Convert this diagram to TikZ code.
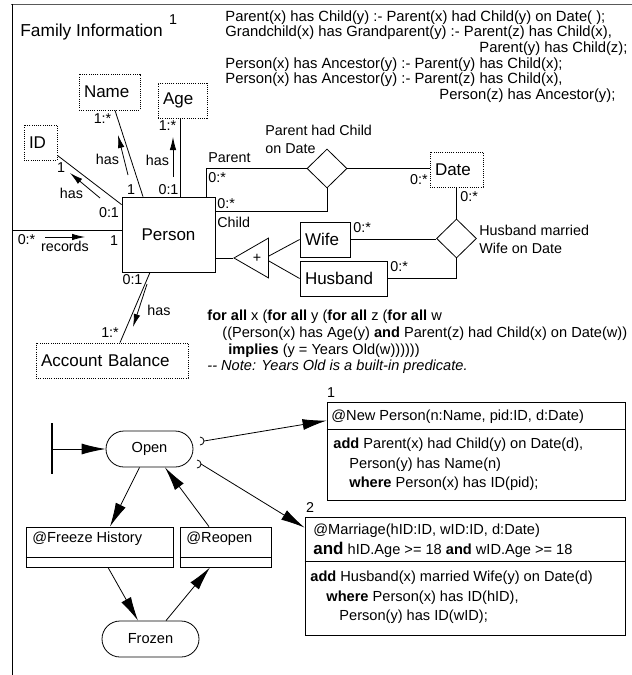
\documentclass[tikz,border=0pt]{standalone}
\usepackage{fontspec}
\setmainfont{Liberation Sans}
\usepackage{tikz}
\usetikzlibrary{arrows.meta,positioning,calc,shapes.geometric,shapes.misc}
\newcommand{\lblsize}{\fontsize{14.3}{18}\selectfont}
\newcommand{\boxsize}{\fontsize{17}{20}\selectfont}
\newcommand{\actsize}{\fontsize{14.6}{19.5}\selectfont}

\begin{document}
\begin{tikzpicture}[x=1pt,y=-1pt,line width=0.8pt,
  attr/.style={draw, dash pattern=on 1pt off 1.2pt, font=\boxsize, inner ysep=0pt, inner xsep=5pt, align=left},
  objbox/.style={draw, font=\boxsize, inner ysep=0pt, inner xsep=5pt, align=left},
  rel/.style={draw, diamond, minimum width=40pt, minimum height=39pt, inner sep=0pt},
  lbl/.style={font=\lblsize, inner sep=0pt},
  hasarrow/.style={-{Latex[length=13pt,width=6.5pt]}},
  flow/.style={-{Latex[length=24pt,width=11pt]}},
  statebox/.style={draw, rounded rectangle, font=\actsize, minimum height=36pt, inner sep=0pt},
  trbox/.style={draw, minimum height=40pt, inner sep=0pt},
  actbox/.style={draw, inner sep=0pt},
  act/.style={font=\actsize, inner sep=0pt, align=left}]
  \useasboundingbox (0,0) rectangle (632,675);
  % frame of the model
  \draw[black!65, line width=1.6pt] (11,4.5) -- (632,4.5);
  \draw (12,4) -- (12,675);
  \node[font=\fontsize{17.3}{20}\selectfont, inner sep=0pt, anchor=west] (ttl) at (20,32) {Family Information};
  \node[lbl] (ttlno) at (173,20) {1};
  \node[font=\fontsize{14.8}{15.6}\selectfont, inner sep=0pt, align=left, anchor=west] (rl) at (225,56.5)
    {Parent(x) has Child(y) :- Parent(x) had Child(y) on Date( );\\
     Grandchild(x) has Grandparent(y) :- Parent(z) has Child(x),\\
     \hspace*{254pt}Parent(y) has Child(z);\\
     Person(x) has Ancestor(y) :- Parent(y) has Child(x);\\
     Person(x) has Ancestor(y) :- Parent(z) has Child(x),\\
     \hspace*{214pt}Person(z) has Ancestor(y);};

  % object sets
  \node[objbox, minimum width=93pt, minimum height=75pt, inner xsep=0pt] (ps) at (168.5,234.5) {Person};
  \node[attr, text width=51pt, minimum height=36pt] (nm) at (109.5,92) {Name};
  \node[attr, text width=39pt, minimum height=35pt] (ag) at (182.5,100.5) {Age};
  \node[attr, text width=23pt, minimum height=35pt] (id) at (40.5,142.5) {ID};
  \node[attr, text width=43pt, minimum height=35pt] (dt) at (456.5,169.5) {Date};
  \node[attr, text width=142pt, minimum height=35pt] (ab) at (112,360.5) {Account Balance};
  \node[objbox, text width=40pt, minimum height=35pt] (wf) at (325,239.5) {Wife};
  \node[objbox, text width=77pt, minimum height=35pt] (hb) at (343.5,278.5) {Husband};
  \node[rel] (r1) at (327,168.5) {};
  \node[rel] (r2) at (456.5,238.5) {};
  \node[draw, regular polygon, regular polygon sides=3, shape border rotate=90, minimum size=46pt,
        inner sep=0pt, font=\lblsize] (gen) at (257,258) {+};
  \coordinate (rec) at (12,230);

  % relationship sets
  \draw ([xshift=5.5pt]nm.south) -- ([xshift=-25.5pt]ps.north);
  \draw ([xshift=-2.5pt]ag.south) -- ([xshift=-2.5pt]ag.south |- ps.north);
  \draw ([yshift=5pt]id.south east) -- ([yshift=-8pt]ps.north west);
  \draw (rec) -- (rec -| ps.west);
  \draw ([xshift=-18.5pt]ps.south) -- ([xshift=8pt]ab.north);
  \draw ([xshift=-9pt]ps.north east) |- (r1.west);
  \draw (r1.south) |- (ps.east |- 0,211);
  \draw (r1.east) -- (r1.east -| dt.west);
  \draw (dt.south) -- (dt.south |- r2.north);
  \draw (wf.east) -- (wf.east -| r2.west);
  \draw (hb.east) -| (r2.south);
  \draw (gen.corner 1) -- (gen.corner 1 -| ps.east);
  \draw ([yshift=2pt]gen.east) -- (wf.west);
  \draw ([yshift=-3pt]gen.east) -- (hb.west);

  % reading arrows
  \draw[hasarrow] (128,175) -- (118,135);
  \draw[hasarrow] (173,177) -- (173,137);
  \draw[hasarrow] (100,198) -- (70,173);
  \draw[hasarrow] (45,237) -- (85,237);
  \draw[hasarrow] (147,284) -- (133,327);

  % participation constraints and names
  \node[lbl] at (102.5,119) {1:*};
  \node[lbl] at (107.5,159) {has};
  \node[lbl] at (131,190) {1};
  \node[lbl] at (167.5,126) {1:*};
  \node[lbl] at (157.5,160) {has};
  \node[lbl] at (168.5,190) {0:1};
  \node[lbl] at (61,168) {1};
  \node[lbl] at (71.5,193) {has};
  \node[lbl] at (109,213) {0:1};
  \node[lbl] at (26.5,240) {0:*};
  \node[lbl] at (65,246) {records};
  \node[lbl] at (114,241) {1};
  \node[lbl] at (132.5,280) {0:1};
  \node[lbl] at (110,333) {1:*};
  \node[lbl] at (159,310) {has};
  \node[lbl, anchor=west] at (208,158) {Parent};
  \node[lbl, anchor=west] at (208,178) {0:*};
  \node[lbl, anchor=west] at (217,204) {0:*};
  \node[lbl, anchor=west] at (217,222) {Child};
  \node[lbl, anchor=west, align=left] at (265,139) {Parent had Child\\on Date};
  \node[lbl, anchor=east] at (428,180) {0:*};
  \node[lbl, anchor=west] at (460,197) {0:*};
  \node[lbl, anchor=west] at (353,228) {0:*};
  \node[lbl, anchor=west] at (390,267) {0:*};
  \node[lbl, anchor=west, align=left] at (479,239) {Husband married\\Wife on Date};

  % general constraint
  \node[font=\fontsize{14.6}{16.7}\selectfont, inner sep=0pt, align=left, anchor=west] (cn) at (207,342)
    {\textbf{for all} x (\textbf{for all} y (\textbf{for all} z (\textbf{for all} w\\
     \hspace*{15pt}((Person(x) has Age(y) \textbf{and} Parent(z) had Child(x) on Date(w))\\
     \hspace*{21pt}\textbf{implies} (y = Years Old(w))))))\\
     \textit{{-}{-} Note: Years Old is a built-in predicate.}};

  % behavior: states and transitions
  \coordinate (init) at (52,449);
  \draw[line width=2.2pt] (52,423) -- (52,474);
  \node[statebox, minimum width=87pt] (op) at (149.5,449) {Open};
  \node[statebox, minimum width=97pt] (fr) at (150.5,639) {Frozen};
  \node[trbox, minimum width=147pt] (fz) at (99.5,547) {};
  \node[trbox, minimum width=91pt] (rp) at (225.5,547) {};
  \draw ([yshift=10pt]fz.south west) -- ([yshift=10pt]fz.south east);
  \draw ([yshift=10pt]rp.south west) -- ([yshift=10pt]rp.south east);
  \node[act, anchor=west] (fzt) at (32,539) {@Freeze History};
  \node[act, anchor=west] (rpt) at (186,539) {@Reopen};
  \draw[flow] (init) -- (op.west);
  \draw[flow] ([xshift=-10pt]op.south) -- ([xshift=10.5pt]fz.north);
  \draw[flow] ([xshift=-16.5pt]rp.north) -- ([xshift=15.5pt]op.south);
  \draw[flow] ([xshift=8.5pt]fz.south) -- ([xshift=-12.5pt]fr.north);
  \draw[flow] ([xshift=15.5pt]fr.north) -- ([xshift=-15.5pt]rp.south);

  % independent transitions
  \node[actbox, minimum width=298pt, minimum height=98pt] (np) at (476,451) {};
  \draw ([yshift=-28pt]np.north west) -- ([yshift=-28pt]np.north east);
  \node[lbl] (npno) at (331,393) {1};
  \node[act, anchor=west] (nphd) at (331,416.5) {@New Person(n:Name, pid:ID, d:Date)};
  \node[act, anchor=west] (npbd) at (333,464.5)
    {\textbf{add} Parent(x) had Child(y) on Date(d),\\
     \hspace*{16pt}Person(y) has Name(n)\\
     \hspace*{16pt}\textbf{where} Person(x) has ID(pid);};
  \node[actbox, minimum width=320pt, minimum height=118pt] (mg) at (465,576) {};
  \draw ([yshift=-45pt]mg.north west) -- ([yshift=-45pt]mg.north east);
  \node[lbl] (mgno) at (310,508) {2};
  \node[act, anchor=west] (mghd) at (313,540.5)
    {@Marriage(hID:ID, wID:ID, d:Date)\\
     {\fontsize{17}{19.5}\selectfont\textbf{and}} hID.Age >= 18 \textbf{and} wID.Age >= 18};
  \node[act, anchor=west] (mgbd) at (310,597.5)
    {\textbf{add} Husband(x) married Wife(y) on Date(d)\\
     \hspace*{16pt}\textbf{where} Person(x) has ID(hID),\\
     \hspace*{29pt}Person(y) has ID(wID);};
  \coordinate (sk1) at (200,441);
  \coordinate (sk2) at (197,464);
  \draw ([yshift=4pt]sk1) arc[start angle=-90, end angle=90, radius=4];
  \draw ([yshift=4pt]sk2) arc[start angle=-90, end angle=90, radius=4];
  \draw[flow] ([xshift=4pt]sk1) -- ([yshift=-19pt]np.north west);
  \draw[flow] ([xshift=4pt]sk2) -- ([yshift=-11pt]mg.north west);
\end{tikzpicture}
\end{document}
